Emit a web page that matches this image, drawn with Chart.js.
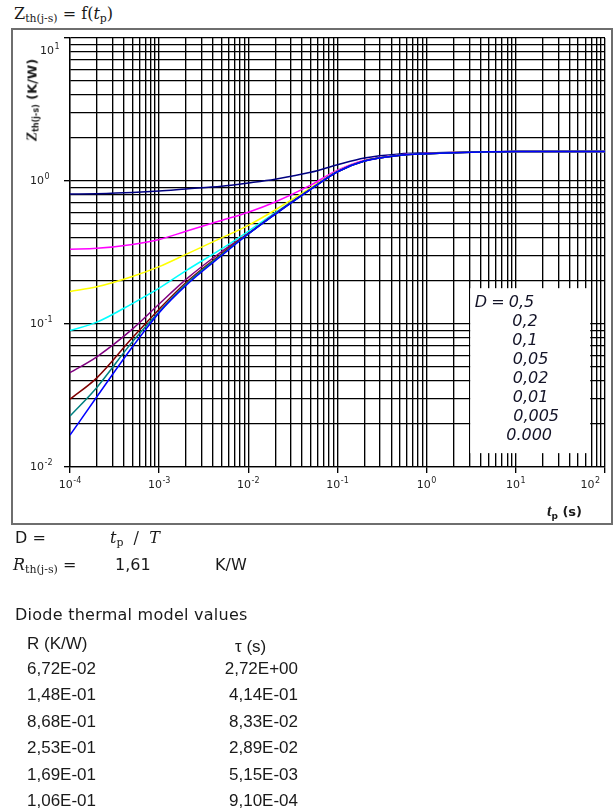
<!DOCTYPE html>
<html>
<head>
<meta charset="utf-8">
<script src="https://cdn.jsdelivr.net/npm/chart.js@4.4.1/dist/chart.umd.min.js"></script>
<style>
  body { margin: 0; background: #fff; }
  #page { position: relative; width: 615px; height: 812px; overflow: hidden; color: #1a1a1a; font-family: "DejaVu Sans", Verdana, sans-serif; }
  .abs { position: absolute; white-space: nowrap; line-height: 1; }
  .serif { font-family: "DejaVu Serif", "Liberation Serif", serif; }
  .lserif { font-family: "Liberation Serif", serif; }
  .arial { font-family: "Liberation Sans", Arial, sans-serif; }
  .sub { font-size: 0.68em; position: relative; top: 0.3em; }
  #frame { position: absolute; left: 11px; top: 28px; width: 598px; height: 493px; border: 2px solid #6e6e6e; }
  #plot { position: absolute; left: 0; top: 0; width: 615px; height: 530px; }
  #ytitle { position: absolute; left: 32px; top: 100px; transform: translate(-50%, -50%) rotate(-90deg); white-space: nowrap; font-weight: bold; font-size: 13px; line-height: 1; }
  .num { width: 100px; text-align: right; }
</style>
</head>
<body>
<div id="page">
  <div class="abs serif" style="left:14px; top:6px; font-size:16px;">Z<span class="sub">th(j-s)</span> = f(<i>t</i><span class="sub">p</span>)</div>
  <div id="frame"></div>
  <div id="plot"><canvas id="zth"></canvas></div>
  <div id="ytitle"><i class="lserif" style="font-size:15px;">Z</i><span class="sub" style="font-size:8px;">th(j-s)</span> (K/W)</div>
  <div class="abs" style="left:547px; top:503px; font-weight:bold; font-size:13px;"><i class="lserif" style="font-size:16px;">t</i><span class="sub" style="font-size:9px;">p</span> (s)</div>

  <div class="abs" style="left:15px; top:530px; font-size:16px;">D =</div>
  <div class="abs serif" style="left:110px; top:530px; font-size:16px;"><i>t</i><span class="sub">p</span>&nbsp; / &nbsp;<i>T</i></div>
  <div class="abs" style="left:13px; top:557px; font-size:16px;"><i class="serif" style="font-size:16px;">R</i><span class="sub serif" style="font-size:11px;">th(j-s)</span> =</div>
  <div class="abs" style="left:115px; top:557px; font-size:16px;">1,61</div>
  <div class="abs" style="left:215px; top:557px; font-size:16px;">K/W</div>

  <div class="abs" style="left:15px; top:607px; font-size:16px; letter-spacing:0.25px;">Diode thermal model values</div>
  <div id="table"></div>
</div>

<script>
// pulse duration tp (s)
const TP = [1e-4, 2e-4, 5e-4, 1e-3, 2e-3, 5e-3, 1e-2, 2e-2, 5e-2, 0.1, 0.2, 0.5, 1, 2, 5, 10, 20, 50, 100];

// Zth(j-s) in K/W for each duty cycle
const Z_D05   = [0.81, 0.815, 0.83, 0.85, 0.88, 0.92, 0.97, 1.03, 1.15, 1.30, 1.45, 1.547, 1.572, 1.588, 1.602, 1.609, 1.61, 1.61, 1.61];
const Z_D02   = [0.333, 0.338, 0.36, 0.39, 0.445, 0.53, 0.605, 0.713, 0.935, 1.19, 1.40, 1.52, 1.555, 1.58, 1.60, 1.61, 1.61, 1.61, 1.61];
const Z_D01   = [0.169, 0.182, 0.215, 0.252, 0.307, 0.40, 0.49, 0.627, 0.895, 1.17, 1.385, 1.515, 1.553, 1.58, 1.60, 1.61, 1.61, 1.61, 1.61];
const Z_D005  = [0.090, 0.103, 0.139, 0.178, 0.236, 0.335, 0.445, 0.60, 0.882, 1.165, 1.38, 1.512, 1.551, 1.579, 1.60, 1.61, 1.61, 1.61, 1.61];
const Z_D002  = [0.0457, 0.059, 0.092, 0.138, 0.205, 0.32, 0.43, 0.592, 0.878, 1.162, 1.38, 1.511, 1.551, 1.578, 1.60, 1.61, 1.61, 1.61, 1.61];
const Z_D001  = [0.0298, 0.042, 0.080, 0.127, 0.195, 0.31, 0.428, 0.589, 0.876, 1.161, 1.38, 1.511, 1.551, 1.578, 1.60, 1.61, 1.61, 1.61, 1.61];
const Z_D0005 = [0.0227, 0.036, 0.075, 0.122, 0.19, 0.305, 0.427, 0.587, 0.875, 1.16, 1.38, 1.511, 1.551, 1.578, 1.60, 1.61, 1.61, 1.61, 1.61];
const Z_D0    = [0.0167, 0.031, 0.069, 0.12, 0.186, 0.30, 0.426, 0.585, 0.874, 1.16, 1.378, 1.511, 1.551, 1.578, 1.60, 1.61, 1.61, 1.61, 1.61];

const DUTY = ['0,5', '0,2', '0,1', '0,05', '0,02', '0,01', '0,005', '0.000'];
const SERIES = [Z_D05, Z_D02, Z_D01, Z_D005, Z_D002, Z_D001, Z_D0005, Z_D0];
const COLORS = ['#000080', '#ff00ff', '#ffff00', '#00ffff', '#800080', '#800000', '#008080', '#0000ff'];

// axis decades (labels 10^n)
const X_DECADES = [-4, -3, -2, -1, 0, 1, 2];
const Y_DECADES = [-2, -1, 0, 1];

// Foster network of the diode
const MODEL_R   = ['6,72E-02', '1,48E-01', '8,68E-01', '2,53E-01', '1,69E-01', '1,06E-01'];
const MODEL_TAU = ['2,72E+00', '4,14E-01', '8,33E-02', '2,89E-02', '5,15E-03', '9,10E-04'];

// table under the chart
const table = document.getElementById('table');
let html = '<div class="abs arial" style="left:27px; top:635px; font-size:17px;">R (K/W)</div>' +
           '<div class="abs arial" style="left:235px; top:638px; font-size:17px;">&tau; (s)</div>';
MODEL_R.forEach((r, i) => {
  const top = 660 + i * 26.4;
  html += `<div class="abs arial" style="left:27px; top:${top}px; font-size:17px;">${r}</div>`;
  html += `<div class="abs arial num" style="left:198px; top:${top}px; font-size:17px;">${MODEL_TAU[i]}</div>`;
});
table.innerHTML = html;

// 1..9 x 10^n ticks so every decade gets its full grid
function logTicks(lo, hi) {
  const ticks = [];
  for (let e = Math.round(Math.log10(lo)); e < Math.round(Math.log10(hi)); e++) {
    for (let m = 1; m < 10; m++) ticks.push({ value: +(m * Math.pow(10, e)).toPrecision(3) });
  }
  ticks.push({ value: hi });
  return ticks;
}
const isDecade = v => Math.abs(Math.log10(v) - Math.round(Math.log10(v))) < 1e-6;

function powerWidth(ctx, exp) {
  ctx.font = '11px "DejaVu Sans"';
  const wb = ctx.measureText('10').width;
  ctx.font = '8px "DejaVu Sans"';
  return [wb, ctx.measureText(String(exp)).width];
}

function drawPower(ctx, exp, x0, py) {
  const [wb] = powerWidth(ctx, exp);
  ctx.textAlign = 'left';
  ctx.textBaseline = 'middle';
  ctx.font = '11px "DejaVu Sans"';
  ctx.fillText('10', x0, py);
  ctx.font = '8px "DejaVu Sans"';
  ctx.fillText(String(exp), x0 + wb + 0.5, py - 4);
}

// white panel with the duty cycle list + 10^n axis labels
const annotations = {
  id: 'annotations',
  beforeDatasetsDraw(chart) {
    const { ctx, scales: { x, y } } = chart;
    const l = x.getPixelForValue(3) + 1, r = x.getPixelForValue(70) - 1;
    const t = y.getPixelForValue(0.178), b = y.getPixelForValue(0.0125);
    ctx.save();
    ctx.fillStyle = '#fff';
    ctx.fillRect(l, t, r - l, b - t);
    ctx.restore();
  },
  afterDraw(chart) {
    const { ctx, chartArea, scales: { x, y } } = chart;
    ctx.save();
    ctx.fillStyle = '#1e1e1e';
    X_DECADES.forEach(e => {
      const [wb, ws] = powerWidth(ctx, e);
      const w = wb + ws + 0.5;
      const x0 = Math.min(x.getPixelForValue(Math.pow(10, e)) - w / 2, chartArea.right - 5 - w);
      drawPower(ctx, e, x0, 485);
    });
    Y_DECADES.forEach(e => {
      const py = y.getPixelForValue(Math.pow(10, e));
      if (py < chartArea.top + 5) drawPower(ctx, e, 40, chartArea.top + 13);
      else drawPower(ctx, e, 30, py);
    });

    const l = x.getPixelForValue(3);
    const t = y.getPixelForValue(0.178);
    ctx.font = 'oblique 16px "DejaVu Sans"';
    ctx.textBaseline = 'middle';
    ctx.fillStyle = '#141428';
    const indent = [39.5, 43, 43, 43.5, 43.5, 43.5, 44, 37];
    DUTY.forEach((d, i) => {
      const py = t + 15 + i * 19;
      if (i === 0) {
        ctx.fillText('D', l + 5.5, py);
        ctx.fillText('=', l + 22, py);
      }
      ctx.fillText(d, l + indent[i], py);
    });
    ctx.restore();
  }
};

const gridStyle = {
  color: '#000',
  lineWidth: 1.35,
  drawTicks: true,
  tickLength: 6,
  tickColor: c => (c.tick && isDecade(c.tick.value)) ? '#000' : 'rgba(0,0,0,0)'
};

new Chart(document.getElementById('zth'), {
  type: 'line',
  data: {
    datasets: SERIES.map((s, i) => ({
      label: 'D = ' + DUTY[i],
      data: TP.map((t, k) => ({ x: t, y: s[k] })),
      borderColor: COLORS[i],
      backgroundColor: COLORS[i],
      borderWidth: 1.5,
      pointRadius: 0,
      cubicInterpolationMode: 'monotone',
      order: -i
    }))
  },
  options: {
    responsive: true,
    maintainAspectRatio: false,
    animation: false,
    layout: { padding: { left: 0, right: 10, top: 38, bottom: 0 } },
    plugins: { legend: { display: false }, tooltip: { enabled: false } },
    scales: {
      x: {
        type: 'logarithmic',
        min: 1e-4,
        max: 100,
        afterBuildTicks: s => { s.ticks = logTicks(1e-4, 100); },
        afterFit: s => { s.height = 63; },
        grid: gridStyle,
        border: { color: '#000', width: 1.35 },
        ticks: { display: false }
      },
      y: {
        type: 'logarithmic',
        min: 0.01,
        max: 10,
        afterBuildTicks: s => { s.ticks = logTicks(0.01, 10); },
        afterFit: s => { s.width = 70; },
        grid: gridStyle,
        border: { color: '#000', width: 1.35 },
        ticks: { display: false }
      }
    }
  },
  plugins: [annotations]
});
</script>
</body>
</html>
